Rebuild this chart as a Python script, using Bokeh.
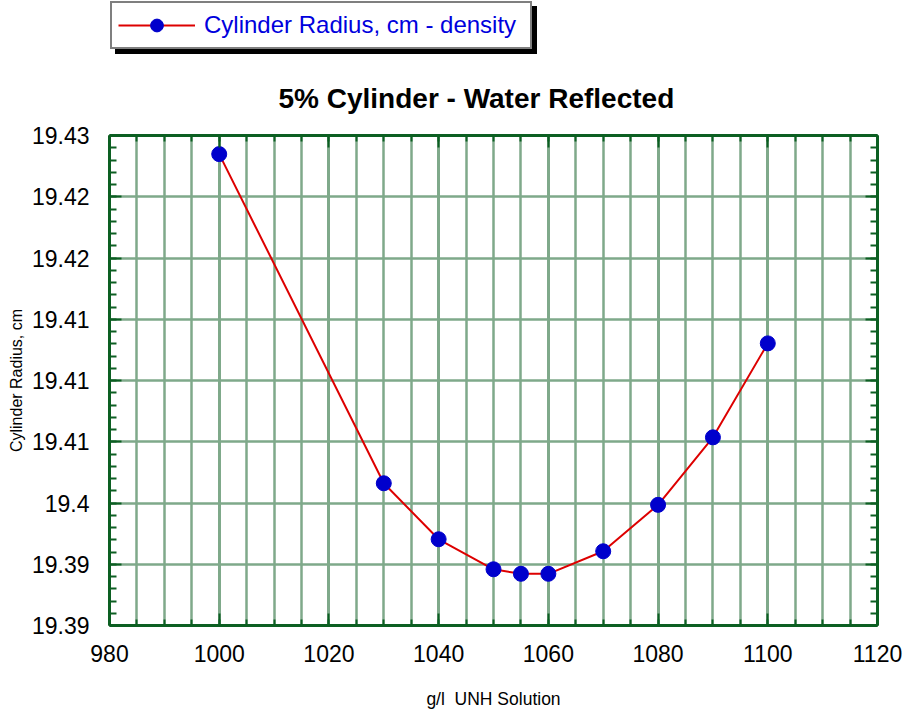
from bokeh.plotting import figure
from bokeh.layouts import column
from bokeh.models import (LinearAxis, FixedTicker, CustomJSTickFormatter, Legend,
                          LegendItem)
from bokeh.embed import file_html
from bokeh.resources import INLINE

# Critical cylinder radius versus solution density
density = [1000, 1030, 1040, 1050, 1055, 1060, 1070, 1080, 1090, 1100]
radius = [19.42348, 19.39661, 19.39204, 19.38959, 19.38922,
          19.38922, 19.39106, 19.39485, 19.40036, 19.40803]

x_ticks = [980, 1000, 1020, 1040, 1060, 1080, 1100, 1120]
x_minor = list(range(980, 1121, 5))
y_ticks = [19.385, 19.390, 19.395, 19.400, 19.405, 19.410, 19.415, 19.420, 19.425]
y_labels = ["19.39", "19.39", "19.4", "19.41", "19.41", "19.41", "19.42", "19.42", "19.43"]
y_minor = [round(19.385 + 0.001 * i, 4) for i in range(41)]

FONT = "Liberation Sans"
AXIS_GREEN = "#0c5f22"
GRID_GREEN = "#7fa98a"
LINE_RED = "#dd0000"
DOT_BLUE = "#0000cc"

HEADER_H = 54

p = figure(width=907, height=713 - HEADER_H, x_range=(980, 1120), y_range=(19.385, 19.425),
           output_backend="svg", toolbar_location=None,
           min_border_left=109, min_border_right=30,
           min_border_top=135 - HEADER_H, min_border_bottom=88,
           background_fill_color="white", border_fill_color="white")
p.outline_line_color = None

p.title.text = "5% Cylinder - Water Reflected"
p.title.text_font = FONT
p.title.text_font_size = "28px"
p.title.text_font_style = "bold"
p.title.text_color = "black"
p.title.align = "left"
p.title.offset = 169
p.title.standoff = 44

xt = FixedTicker(ticks=x_ticks, minor_ticks=x_minor)
yt = FixedTicker(ticks=y_ticks, minor_ticks=y_minor)
y_fmt = CustomJSTickFormatter(args=dict(tick_vals=y_ticks, tick_text=y_labels), code="""
    const i = tick_vals.findIndex((t) => Math.abs(t - tick) < 1e-9);
    return i >= 0 ? tick_text[i] : '';
""")
blank = CustomJSTickFormatter(code="return '';")


def style_axis(ax, major_len, minor_len):
    ax.axis_line_color = AXIS_GREEN
    ax.axis_line_width = 3
    ax.major_tick_line_color = AXIS_GREEN
    ax.major_tick_line_width = 2
    ax.minor_tick_line_color = AXIS_GREEN
    ax.minor_tick_line_width = 2
    ax.major_tick_in = major_len
    ax.major_tick_out = 0
    ax.minor_tick_in = minor_len
    ax.minor_tick_out = 0
    ax.major_label_text_font = FONT
    ax.major_label_text_font_size = "23px"
    ax.major_label_text_color = "black"
    ax.axis_label_text_font = FONT
    ax.axis_label_text_font_style = "normal"
    ax.axis_label_text_color = "black"


xa = p.xaxis[0]
xa.ticker = xt
style_axis(xa, 12, 6)
xa.major_label_standoff = 19
xa.axis_label = "g/l\u00a0 UNH Solution"
xa.axis_label_text_font_size = "17.5px"
xa.axis_label_standoff = 24

ya = p.yaxis[0]
ya.ticker = yt
ya.formatter = y_fmt
style_axis(ya, 12, 7)
ya.major_label_standoff = 20
ya.axis_label = "Cylinder Radius, cm"
ya.axis_label_text_font_size = "16px"
ya.axis_label_standoff = 4

top_axis = LinearAxis(ticker=xt, formatter=blank, major_label_standoff=0)
style_axis(top_axis, 12, 6)
p.add_layout(top_axis, "above")
right_axis = LinearAxis(ticker=yt, formatter=blank, major_label_standoff=0)
style_axis(right_axis, 12, 7)
p.add_layout(right_axis, "right")

p.xgrid.ticker = xt
p.xgrid.grid_line_color = GRID_GREEN
p.xgrid.grid_line_width = 3
p.xgrid.minor_grid_line_color = GRID_GREEN
p.xgrid.minor_grid_line_width = 2.5
p.ygrid.ticker = yt
p.ygrid.grid_line_color = GRID_GREEN
p.ygrid.grid_line_width = 2.5

p.line(density, radius, line_color=LINE_RED, line_width=2)
p.scatter(density, radius, size=15, marker="circle",
          fill_color=DOT_BLUE, line_color=DOT_BLUE)

# Legend strip across the top of the page; its sample glyphs share the
# series styling, the series itself lies outside this strip's unit ranges.
header = figure(width=907, height=HEADER_H, x_range=(0, 1), y_range=(0, 1),
                output_backend="svg", toolbar_location=None,
                x_axis_location=None, y_axis_location=None,
                min_border=0, border_fill_color="white")
header.title_location = None
header.outline_line_color = None
header.grid.visible = False
key_line = header.line(density, radius, line_color=LINE_RED, line_width=2)
key_dot = header.scatter(density, radius, size=15, marker="circle",
                         fill_color=DOT_BLUE, line_color=DOT_BLUE)

legend_style = dict(orientation="vertical", label_text_font=FONT,
                    label_text_font_size="24px", label_standoff=9,
                    label_width=320, label_height=30,
                    glyph_width=77, glyph_height=32, padding=6, margin=0,
                    border_line_color="black", border_line_width=2,
                    background_fill_alpha=1.0)

# Solid black box offset down-right gives the legend its drop shadow
shadow = Legend(items=[LegendItem(label=" ", renderers=[key_line])],
                location=(6, 0), label_text_color="black",
                background_fill_color="black", **legend_style)
header.add_layout(shadow)

legend = Legend(items=[LegendItem(label="Cylinder Radius, cm - density",
                                  renderers=[key_line, key_dot])],
                location=(1, 5), label_text_color="#0000dd",
                background_fill_color="white", **legend_style)
header.add_layout(legend)

page = column(header, p, spacing=0)
open("out.html", "w").write(file_html(page, INLINE))
